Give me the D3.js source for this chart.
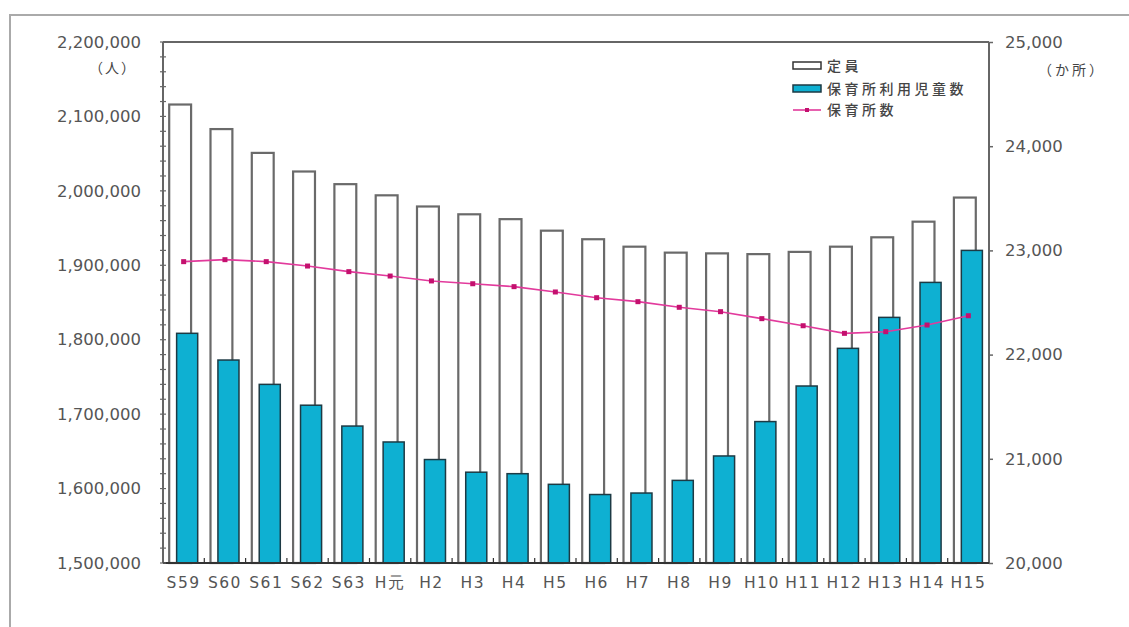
<!DOCTYPE html>
<html>
<head>
<meta charset="utf-8">
<script src="https://cdn.jsdelivr.net/npm/d3@7"></script>
<style>
  html, body { margin: 0; padding: 0; background: #fff; }
  svg { display: block; }
  .tick-label { font-family: "DejaVu Sans", sans-serif; fill: #555; }
  .cjk { font-family: "Noto Sans CJK JP", sans-serif; fill: #444; }
</style>
</head>
<body>
<svg id="chart" width="1129" height="627"></svg>
<script>
// ---- data ----
const categories = ["S59","S60","S61","S62","S63","H元","H2","H3","H4","H5","H6","H7","H8","H9","H10","H11","H12","H13","H14","H15"];
const capacity = [2116000,2083000,2051000,2026000,2009000,1994000,1979000,1968500,1962000,1946500,1935000,1925000,1917000,1916000,1915000,1918000,1925000,1937600,1958600,1991000];
const children = [1808600,1772700,1740000,1712000,1684000,1662600,1639000,1622000,1620000,1605700,1592000,1594000,1611000,1643800,1690000,1737800,1788400,1830000,1877000,1920000];
const facilities = [22892,22911,22892,22850,22796,22754,22707,22680,22652,22601,22546,22508,22454,22412,22345,22277,22204,22220,22284,22373];
const leftTicks = [1500000,1600000,1700000,1800000,1900000,2000000,2100000,2200000];
const rightTicks = [20000,21000,22000,23000,24000,25000];
const legendLabels = ["定員","保育所利用児童数","保育所数"];
const leftUnit = "（人）";
const rightUnit = "（か所）";

// ---- layout ----
const L = 163, R = 989, T = 42, B = 563;
const svg = d3.select("#chart");

const x = d3.scaleBand().domain(categories).range([L, R]).paddingInner(0).paddingOuter(0);
const y1 = d3.scaleLinear().domain([1500000, 2200000]).range([B, T]);
const y2 = d3.scaleLinear().domain([20000, 25000]).range([B, T]);
const bw = x.bandwidth();

// outer frame
svg.append("rect").attr("x", 10).attr("y", 15).attr("width", 1140).attr("height", 640)
  .attr("fill", "none").attr("stroke", "#aaa").attr("stroke-width", 2);

// capacity bars (white)
svg.append("g").selectAll("rect").data(categories).join("rect")
  .attr("x", d => x(d) + bw * 0.15)
  .attr("width", bw * 0.53)
  .attr("y", (d, i) => y1(capacity[i]))
  .attr("height", (d, i) => B - y1(capacity[i]))
  .attr("fill", "#fff").attr("stroke", "#6a6a6a").attr("stroke-width", 2.2);

// children bars (teal)
svg.append("g").selectAll("rect").data(categories).join("rect")
  .attr("x", d => x(d) + bw * 0.33)
  .attr("width", bw * 0.51)
  .attr("y", (d, i) => y1(children[i]))
  .attr("height", (d, i) => B - y1(children[i]))
  .attr("fill", "#0eb0d2").attr("stroke", "#1d3a44").attr("stroke-width", 1.5);

// facilities line
const line = d3.line().x((d, i) => x(categories[i]) + bw / 2).y(d => y2(d));
svg.append("path").datum(facilities).attr("d", line)
  .attr("fill", "none").attr("stroke", "#e23a9c").attr("stroke-width", 1.6);
svg.append("g").selectAll("rect").data(facilities).join("rect")
  .attr("x", (d, i) => x(categories[i]) + bw / 2 - 2.5)
  .attr("y", d => y2(d) - 2.5)
  .attr("width", 5).attr("height", 5)
  .attr("fill", "#c4106e");

// plot frame
const frame = svg.append("g").attr("stroke", "#666").attr("stroke-width", 2).attr("fill", "none");
frame.append("line").attr("x1", L).attr("x2", R).attr("y1", T).attr("y2", T);
frame.append("line").attr("x1", L).attr("x2", L).attr("y1", T).attr("y2", B);
frame.append("line").attr("x1", R).attr("x2", R).attr("y1", T).attr("y2", B);
frame.append("line").attr("x1", L).attr("x2", R).attr("y1", B).attr("y2", B).attr("stroke", "#333");

// left axis labels
const leftAxis = d3.axisLeft(y1).tickValues(leftTicks).tickFormat(d3.format(",")).tickSize(0).tickPadding(22);
const gl = svg.append("g").attr("transform", `translate(${L},0)`).call(leftAxis);
gl.select(".domain").remove();
gl.selectAll("text").attr("class", "tick-label").style("font-size", "16.5px").attr("fill", "#555");

// left minor ticks
svg.append("g").selectAll("line").data(y1.ticks(35)).join("line")
  .attr("x1", L - 3).attr("x2", L + 3)
  .attr("y1", d => y1(d)).attr("y2", d => y1(d))
  .attr("stroke", "#666").attr("stroke-width", 1.2);

// right axis
const rightAxis = d3.axisRight(y2).tickValues(rightTicks).tickFormat(d3.format(",")).tickSize(4).tickPadding(12);
const gr = svg.append("g").attr("transform", `translate(${R},0)`).call(rightAxis);
gr.select(".domain").remove();
gr.selectAll("line").attr("stroke", "#666").attr("stroke-width", 1.5);
gr.selectAll("text").attr("class", "tick-label").style("font-size", "16.5px").attr("fill", "#555");

// bottom axis
const bottomAxis = d3.axisBottom(x).tickSize(0).tickPadding(14);
const gb = svg.append("g").attr("transform", `translate(0,${B})`).call(bottomAxis);
gb.select(".domain").remove();
gb.selectAll("text").attr("class", "tick-label").style("font-size", "15.5px")
  .style("letter-spacing", "1.5px").attr("fill", "#555");
// category boundary ticks
svg.append("g").selectAll("line").data(categories.slice(1)).join("line")
  .attr("x1", d => x(d)).attr("x2", d => x(d))
  .attr("y1", B - 5).attr("y2", B)
  .attr("stroke", "#333").attr("stroke-width", 1.2);

// units
svg.append("text").attr("class", "cjk").attr("x", 113).attr("y", 73)
  .attr("text-anchor", "middle").style("font-size", "14px").style("letter-spacing", "2px").text(leftUnit);
svg.append("text").attr("class", "cjk").attr("x", 1072).attr("y", 75)
  .attr("text-anchor", "middle").style("font-size", "14px").style("letter-spacing", "3px").text(rightUnit);

// legend
const lg = svg.append("g").attr("transform", "translate(793,0)");
lg.append("rect").attr("x", 0).attr("y", 62).attr("width", 28).attr("height", 7)
  .attr("fill", "#fff").attr("stroke", "#333").attr("stroke-width", 1.5);
lg.append("rect").attr("x", 0).attr("y", 85).attr("width", 28).attr("height", 7)
  .attr("fill", "#0eb0d2").attr("stroke", "#1d3a44").attr("stroke-width", 1.5);
lg.append("line").attr("x1", 0).attr("x2", 28).attr("y1", 110).attr("y2", 110)
  .attr("stroke", "#e23a9c").attr("stroke-width", 1.6);
lg.append("rect").attr("x", 12).attr("y", 108).attr("width", 4).attr("height", 4).attr("fill", "#c4106e");
[71, 94, 115].forEach((yy, i) => {
  lg.append("text").attr("class", "cjk").attr("x", 34).attr("y", yy)
    .style("font-size", "14px").style("letter-spacing", "3.5px").style("font-weight", "500")
    .attr("fill", "#333")
    .text(legendLabels[i]);
});
</script>
</body>
</html>
